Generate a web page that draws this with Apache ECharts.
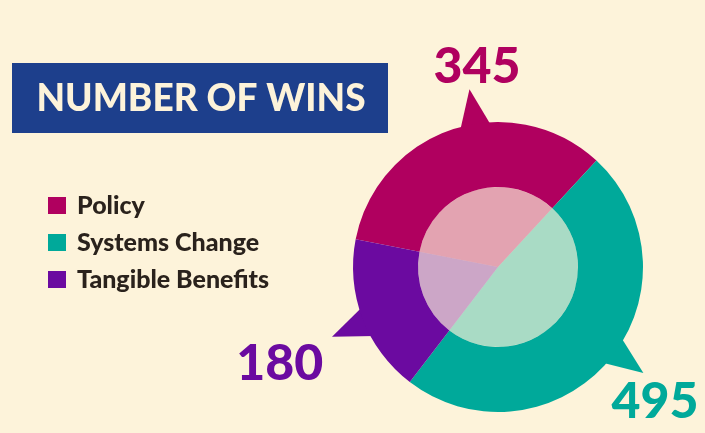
<!DOCTYPE html>
<html>
<head>
<meta charset="utf-8">
<script src="https://cdn.jsdelivr.net/npm/echarts@6/dist/echarts.min.js"></script>
<style>
    html, body { margin: 0; padding: 0; background: #fdf3da; }
    #main { width: 705px; height: 433px; }
</style>
</head>
<body>
<div id="main"></div>
<script>
// data
var categories = ['Policy', 'Systems Change', 'Tangible Benefits']
var wins = [345, 495, 180]
var colors = ['#b0005f', '#00a99a', '#6b0aa0']
// nudges so the big numbers and pointers sit where the designer put them
var labelOffsets = [[45, 1], [-5, -2], [-20, 22]]
var pointerNudge = [-9, 4, 2] // degrees, counter-clockwise

var total = wins.reduce(function (a, b) { return a + b }, 0)
var startAngle = 169
var center = [498, 267]

var pieData = [], pointerData = [], labelData = []
var cum = 0
wins.forEach(function (v, i) {
    pieData.push({ name: categories[i], value: v, itemStyle: { color: colors[i] } })
    var mid = cum + v / 2
    var at = mid - pointerNudge[i] / 360 * total
    var deg = startAngle - at / total * 360
    pointerData.push({ value: [160, at], symbolRotate: deg - 90, itemStyle: { color: colors[i] } })
    labelData.push({ value: [212, mid, v], label: { color: colors[i], offset: labelOffsets[i] } })
    cum += v
})

var myChart = echarts.init(document.getElementById('main'))
var options = {
    backgroundColor: '#fdf3da',
    animation: false,
    graphic: [
        {
            type: 'rect',
            x: 12, y: 63,
            shape: { width: 376, height: 70 },
            style: { fill: '#1d3f8c' }
        },
        {
            type: 'text',
            x: 201, y: 99,
            style: {
                text: 'NUMBER OF WINS',
                fill: '#fdf3da',
                font: '900 37px Lato',
                textAlign: 'center',
                textVerticalAlign: 'middle'
            }
        }
    ],
    legend: {
        orient: 'vertical',
        left: 43,
        top: 188,
        icon: 'rect',
        itemWidth: 18,
        itemHeight: 17,
        itemGap: 12,
        selectedMode: false,
        data: categories,
        textStyle: {
            fontFamily: 'Lato',
            fontWeight: 900,
            fontSize: 25,
            color: '#2a221c',
            padding: [0, 0, 0, 6]
        }
    },
    polar: { center: center, radius: 260 },
    angleAxis: {
        type: 'value', min: 0, max: total, startAngle: startAngle, clockwise: true, show: false
    },
    radiusAxis: { type: 'value', min: 0, max: 260, show: false },
    series: [
        {
            type: 'scatter',
            coordinateSystem: 'polar',
            symbol: 'triangle',
            symbolSize: [32, 40],
            silent: true,
            z: 1,
            itemStyle: { opacity: 1 },
            data: pointerData
        },
        {
            name: 'wins',
            type: 'pie',
            center: center,
            radius: [80, 145],
            startAngle: startAngle,
            clockwise: true,
            silent: true,
            z: 2,
            label: { show: false },
            labelLine: { show: false },
            data: pieData
        },
        {
            name: 'inner',
            type: 'pie',
            center: center,
            radius: [0, 80],
            startAngle: startAngle,
            clockwise: true,
            silent: true,
            z: 2,
            itemStyle: { opacity: 0.33 },
            label: { show: false },
            labelLine: { show: false },
            data: pieData
        },
        {
            type: 'scatter',
            coordinateSystem: 'polar',
            symbolSize: 0,
            silent: true,
            z: 3,
            itemStyle: { opacity: 1 },
            label: {
                show: true,
                position: 'inside',
                fontFamily: 'Lato',
                fontWeight: 900,
                fontSize: 50,
                formatter: function (p) { return p.value[2] }
            },
            data: labelData
        }
    ]
}
myChart.setOption(options)
</script>
</body>
</html>
